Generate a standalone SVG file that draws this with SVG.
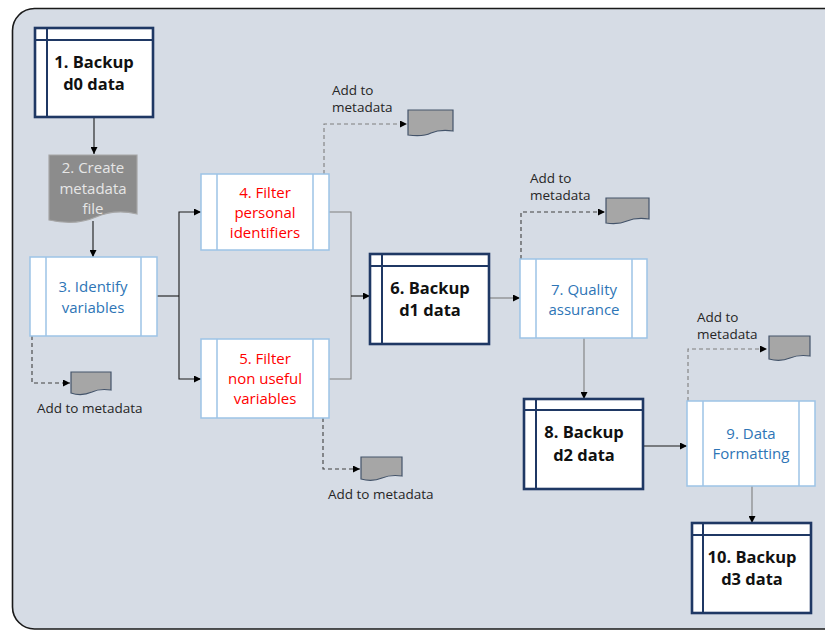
<svg xmlns="http://www.w3.org/2000/svg" width="825" height="631" viewBox="0 0 825 631">
<defs>
<marker id="ah" viewBox="0 0 10 10" refX="10" refY="5" markerWidth="7" markerHeight="7" markerUnits="userSpaceOnUse" orient="auto">
<path d="M0,0 L10,5 L0,10 Z" fill="#000"/>
</marker>
<style>
text{font-family:"Open Sans","Liberation Sans",sans-serif;}
.bk{fill:#fff;stroke:#1f3864;stroke-width:2.6;}
.bki{fill:none;stroke:#1f3864;stroke-width:2;}
.bt{font-size:16.5px;font-weight:bold;fill:#111;text-anchor:middle;}
.pr{fill:#fff;stroke:#9dc3e6;stroke-width:1.5;}
.pt{font-size:15px;text-anchor:middle;}
.blue{fill:#2e75b6;}
.red{fill:#ff0000;}
.doc{fill:#a6a6a6;stroke:#44546a;stroke-width:1.2;}
.ml{font-size:13.5px;fill:#262626;}
.c{fill:none;stroke:#1a1a1a;stroke-width:1.1;}
.cg{fill:none;stroke:#7f7f7f;stroke-width:1.1;}
.cd{fill:none;stroke:#7f7f7f;stroke-width:1.1;stroke-dasharray:4,3;}
.cdk{fill:none;stroke:#404040;stroke-width:1.1;stroke-dasharray:4,3;}
</style>
</defs>
<rect x="12.5" y="8.5" width="840" height="620.5" rx="22" fill="#d6dce5" stroke="#1a1a1a" stroke-width="1.6"/>

<g id="connectors">
<path class="c" d="M94,117 V154" marker-end="url(#ah)"/>
<path class="c" d="M93,221 V257" marker-end="url(#ah)"/>
<path class="c" d="M157,296 H179"/>
<path class="c" d="M179,296 V212 H201" marker-end="url(#ah)"/>
<path class="c" d="M179,296 V379 H201" marker-end="url(#ah)"/>
<path class="cg" d="M329,212 H351 V379 H329"/>
<path class="c" d="M351,296 H370" marker-end="url(#ah)"/>
<path class="cg" d="M489,298 H520" marker-end="url(#ah)"/>
<path class="cg" d="M584,338 V399" marker-end="url(#ah)"/>
<path class="c" d="M643,446 H687" marker-end="url(#ah)"/>
<path class="cg" d="M752,486 V523" marker-end="url(#ah)"/>
<path class="cdk" d="M32,336 V383 H70" marker-end="url(#ah)"/>
<path class="cd" d="M324,174 V124 H407" marker-end="url(#ah)"/>
<path class="cdk" d="M323,418 V469 H360" marker-end="url(#ah)"/>
<path class="cdk" d="M521,259 V212 H605" marker-end="url(#ah)"/>
<path class="cd" d="M688,401 V349 H767" marker-end="url(#ah)"/>
</g>

<g id="n1">
<rect class="bk" x="35" y="28" width="118" height="89"/>
<path class="bki" d="M47,28 V117 M35,40 H153"/>
<text class="bt" x="94" y="68">1. Backup</text>
<text class="bt" x="94" y="90">d0 data</text>
</g>

<g id="n2">
<path d="M49,155 H137 V214 C125,211 110,211 96,217 C80,224 62,223 49,220 Z" fill="#8c8c8c" stroke="#a6a6a6" stroke-width="1.2"/>
<text class="pt" x="93" y="173" fill="#e6e6e6">2. Create</text>
<text class="pt" x="93" y="193.5" fill="#e6e6e6">metadata</text>
<text class="pt" x="93" y="214" fill="#e6e6e6">file</text>
</g>

<g id="n3">
<rect class="pr" x="30" y="257" width="127" height="79"/>
<path class="pr" d="M46,257 V336 M141,257 V336"/>
<text class="pt blue" x="93" y="292">3. Identify</text>
<text class="pt blue" x="93" y="312.5">variables</text>
</g>

<g id="m3">
<path class="doc" d="M71,372 H111 V390 C104,389 98,389 92,392 C85,395 77,395 71,393 Z"/>
<text class="ml" x="37" y="413">Add to metadata</text>
</g>

<g id="n4">
<rect class="pr" x="201" y="174" width="128" height="76"/>
<path class="pr" d="M217,174 V250 M313,174 V250"/>
<text class="pt red" x="265" y="198">4. Filter</text>
<text class="pt red" x="265" y="218">personal</text>
<text class="pt red" x="265" y="238">identifiers</text>
</g>

<g id="m4">
<path class="doc" d="M408,110 H453 V131 C445,130 438,130 431,133 C423,137 415,136 408,135 Z"/>
<text class="ml" x="332" y="95">Add to</text>
<text class="ml" x="332" y="112">metadata</text>
</g>

<g id="n5">
<rect class="pr" x="201" y="339" width="128" height="79"/>
<path class="pr" d="M217,339 V418 M313,339 V418"/>
<text class="pt red" x="265" y="364">5. Filter</text>
<text class="pt red" x="265" y="384">non useful</text>
<text class="pt red" x="265" y="404">variables</text>
</g>

<g id="m5">
<path class="doc" d="M361,457 H402 V476 C395,475 389,475 382,478 C375,481 368,481 361,479 Z"/>
<text class="ml" x="328" y="499">Add to metadata</text>
</g>

<g id="n6">
<rect class="bk" x="370" y="254" width="119" height="90"/>
<path class="bki" d="M382,254 V344 M370,266 H489"/>
<text class="bt" x="430" y="294">6. Backup</text>
<text class="bt" x="430" y="316">d1 data</text>
</g>

<g id="n7">
<rect class="pr" x="520" y="259" width="127" height="79"/>
<path class="pr" d="M536,259 V338 M632,259 V338"/>
<text class="pt blue" x="584" y="295">7. Quality</text>
<text class="pt blue" x="584" y="315">assurance</text>
</g>

<g id="m7">
<path class="doc" d="M606,198 H649 V219 C641,218 634,218 627,221 C620,224 613,224 606,223 Z"/>
<text class="ml" x="530" y="183">Add to</text>
<text class="ml" x="530" y="200">metadata</text>
</g>

<g id="n8">
<rect class="bk" x="524" y="399" width="119" height="90"/>
<path class="bki" d="M536,399 V489 M524,410 H643"/>
<text class="bt" x="584" y="438">8. Backup</text>
<text class="bt" x="584" y="461">d2 data</text>
</g>

<g id="n9">
<rect class="pr" x="687" y="401" width="128" height="85"/>
<path class="pr" d="M703,401 V486 M799,401 V486"/>
<text class="pt blue" x="751" y="439">9. Data</text>
<text class="pt blue" x="751" y="459">Formatting</text>
</g>

<g id="m9">
<path class="doc" d="M769,336 H810 V356 C803,355 797,355 790,358 C783,361 776,361 769,359 Z"/>
<text class="ml" x="697" y="322">Add to</text>
<text class="ml" x="697" y="339">metadata</text>
</g>

<g id="n10">
<rect class="bk" x="692" y="523" width="119" height="90"/>
<path class="bki" d="M703,523 V613 M692,535 H811"/>
<text class="bt" x="752" y="563">10. Backup</text>
<text class="bt" x="752" y="585">d3 data</text>
</g>
</svg>
